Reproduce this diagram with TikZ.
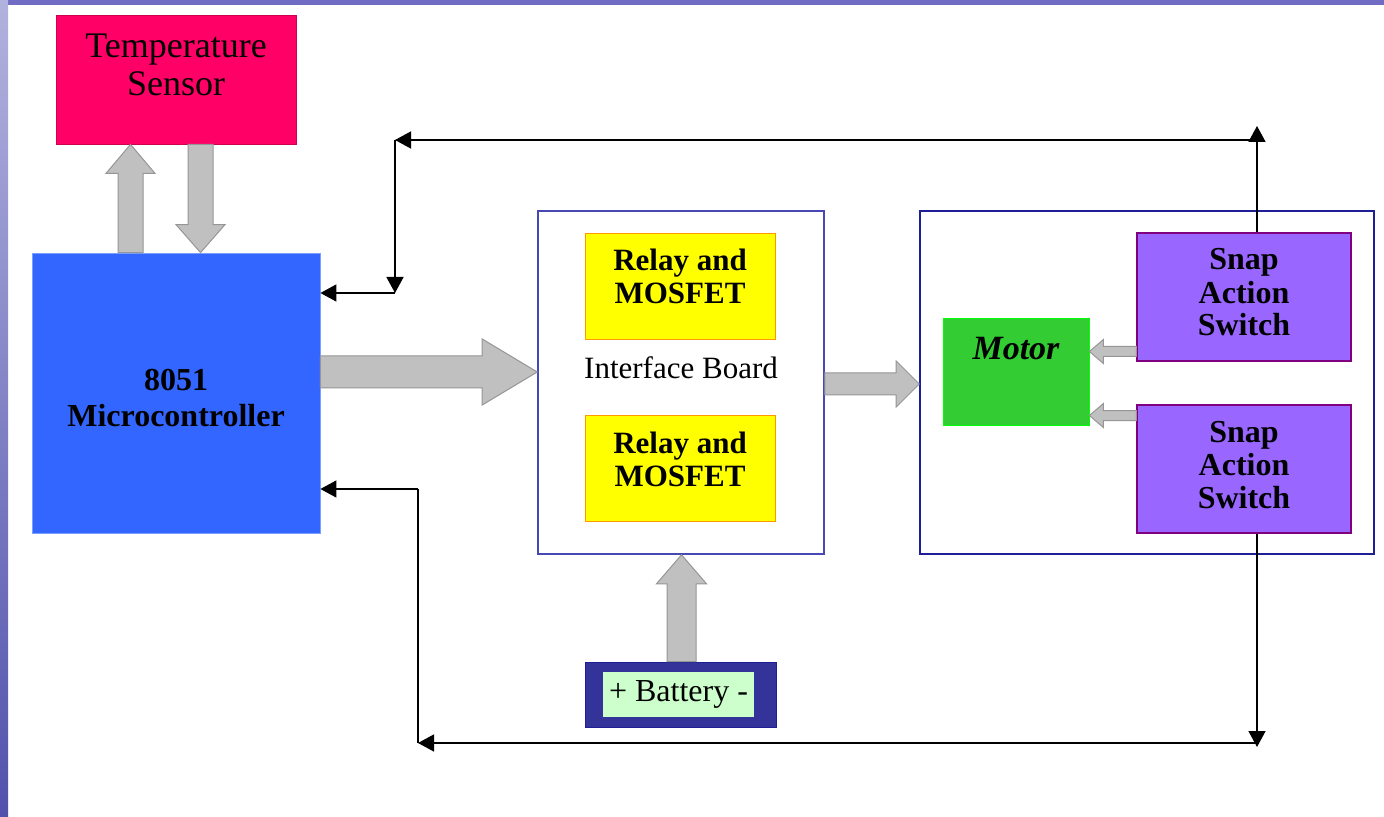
\documentclass[tikz,border=0pt]{standalone}
\usepackage{fontspec}
\setmainfont{Liberation Serif}
\usetikzlibrary{arrows.meta,calc}
\definecolor{bgLight}{RGB}{178,178,222}
\definecolor{bgDark}{RGB}{82,82,172}
\definecolor{bgTop}{RGB}{112,108,196}
\definecolor{sRed}{RGB}{255,0,102}
\definecolor{sRedEdge}{RGB}{205,0,82}
\definecolor{mcBlue}{RGB}{51,102,255}
\definecolor{mcEdge}{RGB}{120,160,255}
\definecolor{ibBlue}{RGB}{72,72,180}
\definecolor{mbBlue}{RGB}{30,30,150}
\definecolor{rYellow}{RGB}{255,255,0}
\definecolor{rOrange}{RGB}{255,153,0}
\definecolor{mGreen}{RGB}{51,204,51}
\definecolor{mGreenEdge}{RGB}{0,255,0}
\definecolor{swPurple}{RGB}{153,102,255}
\definecolor{swEdge}{RGB}{128,0,128}
\definecolor{bNavy}{RGB}{51,51,153}
\definecolor{bMint}{RGB}{204,255,204}
\definecolor{aGray}{RGB}{192,192,192}
\definecolor{aEdge}{RGB}{150,150,150}
\tikzset{
sensorbox/.style={rectangle,draw=sRedEdge,fill=sRed,inner sep=0pt,minimum width=120pt,minimum height=64.5pt,align=center,text height=40.5pt,text depth=24pt,font=\fontsize{18pt}{19pt}\selectfont},
mcubox/.style={rectangle,draw=mcEdge,fill=mcBlue,inner sep=0pt,minimum width=144pt,minimum height=140pt,align=center,text height=86.5pt,text depth=53.5pt,font=\fontsize{16pt}{17.5pt}\selectfont\bfseries},
board/.style={rectangle,draw=#1,line width=0.8pt,fill=white,inner sep=0pt,minimum height=171.5pt},
relaybox/.style={rectangle,draw=rOrange,fill=rYellow,inner sep=0pt,minimum width=95pt,minimum height=53pt,align=center,text height=35.5pt,text depth=17.5pt,font=\fontsize{15.5pt}{16.5pt}\selectfont\bfseries},
motorbox/.style={rectangle,draw=mGreenEdge,fill=mGreen,inner sep=0pt,minimum width=73pt,minimum height=53.5pt,text height=21pt,text depth=32.5pt,font=\fontsize{17pt}{18pt}\selectfont\bfseries\itshape},
switchbox/.style={rectangle,draw=swEdge,line width=0.7pt,fill=swPurple,inner sep=0pt,minimum width=107pt,minimum height=64pt,align=center,text height=51.5pt,text depth=12.5pt,font=\fontsize{16pt}{16.5pt}\selectfont\bfseries},
wire/.style={line width=0.75pt,black,-{Triangle[length=8pt,width=8.5pt]}},
fat/.style args={#1/#2/#3}{draw=aEdge,fill=aGray,line width=0.5pt,to path={
  ($(\tikztostart)!#1!90:(\tikztotarget)$)
  -- ($($(\tikztotarget)!#3!(\tikztostart)$)!#1!90:(\tikztotarget)$)
  -- ($($(\tikztotarget)!#3!(\tikztostart)$)!#2!90:(\tikztotarget)$)
  -- (\tikztotarget)
  -- ($($(\tikztotarget)!#3!(\tikztostart)$)!#2!-90:(\tikztotarget)$)
  -- ($($(\tikztotarget)!#3!(\tikztostart)$)!#1!-90:(\tikztotarget)$)
  -- ($(\tikztostart)!#1!-90:(\tikztotarget)$) -- cycle}}
}

\begin{document}
\begin{tikzpicture}[x=0.5pt,y=-0.5pt]
\useasboundingbox (0,0) rectangle (1384,817);
% slide background
\fill[white] (0,0) rectangle (1384,817);
\fill[bgTop] (0,0) rectangle (1384,5);
\shade[top color=bgLight,bottom color=bgDark] (0,0) rectangle (8,817);

% blocks
\node[sensorbox] (sensor) at (176,79.5) {Temperature\\Sensor};
\node[mcubox] (mcu) at (176,393) {8051\\Microcontroller};
\node[board=ibBlue,minimum width=143pt] (ib) at (681,382.5) {};
\node[relaybox] (relay1) at (680,286) {Relay and\\MOSFET};
\node[relaybox] (relay2) at (680,468.5) {Relay and\\MOSFET};
\node[anchor=base,font=\fontsize{15.5pt}{16pt}\selectfont] (iblabel) at (681,379) {Interface Board};
\node[board=mbBlue,minimum width=227pt] (mb) at (1147,382.5) {};
\node[motorbox] (motor) at (1016,371.5) {Motor};
\node[switchbox] (sw1) at (1244,297) {Snap\\Action\\Switch};
\node[switchbox] (sw2) at (1244,469) {Snap\\Action\\Switch};
\node[rectangle,draw=mbBlue,fill=bNavy,minimum width=95.5pt,minimum height=32.5pt] (battery) at (680.5,694.5) {};
\node[rectangle,fill=bMint,inner sep=0pt,minimum width=75.5pt,minimum height=22.5pt,font=\fontsize{16pt}{17pt}\selectfont] (battlabel) at (678.5,694.5) {+ Battery -};

% block arrows
\draw[fat=6.25pt/12.25pt/14.5pt] (mcu.north -| 130.5,0) to (sensor.south -| 130.5,0);
\draw[fat=6.25pt/12.25pt/14pt] (sensor.south -| 200.5,0) to (mcu.north -| 200.5,0);
\draw[fat=8pt/16.5pt/27.5pt] (mcu.east |- 0,372) to (ib.west |- 0,372);
\draw[fat=5.5pt/11.5pt/11.5pt] (ib.east |- 0,384) to (mb.west |- 0,384);
\draw[fat=7.25pt/12.5pt/14.5pt] (battery.north -| 681.5,0) to (ib.south -| 681.5,0);
\draw[fat=2.5pt/6pt/7pt] (sw1.west |- 0,351.5) to (motor.east |- 0,351.5);
\draw[fat=2.5pt/6pt/7pt] (sw2.west |- 0,415.5) to (motor.east |- 0,415.5);

% feedback lines
\coordinate (tr) at (1257,140);
\coordinate (tl) at (395,140);
\coordinate (tdrop) at (395,293);
\coordinate (br) at (1257,743);
\coordinate (bl) at (418,743);
\coordinate (brise) at (418,489);
\draw[wire] (sw1.north -| tr) -- ([yshift=7pt]tr);
\draw[wire] (tr) -- (tl);
\draw[wire] (tl) -- (tdrop);
\draw[wire] (tdrop) -- (tdrop -| mcu.east);
\draw[wire] (sw2.south -| br) -- ([yshift=-2pt]br);
\draw[wire] (br) -- (bl);
\draw[line width=0.75pt] (bl) -- (brise);
\draw[wire] (brise) -- (brise -| mcu.east);
\end{tikzpicture}
\end{document}
